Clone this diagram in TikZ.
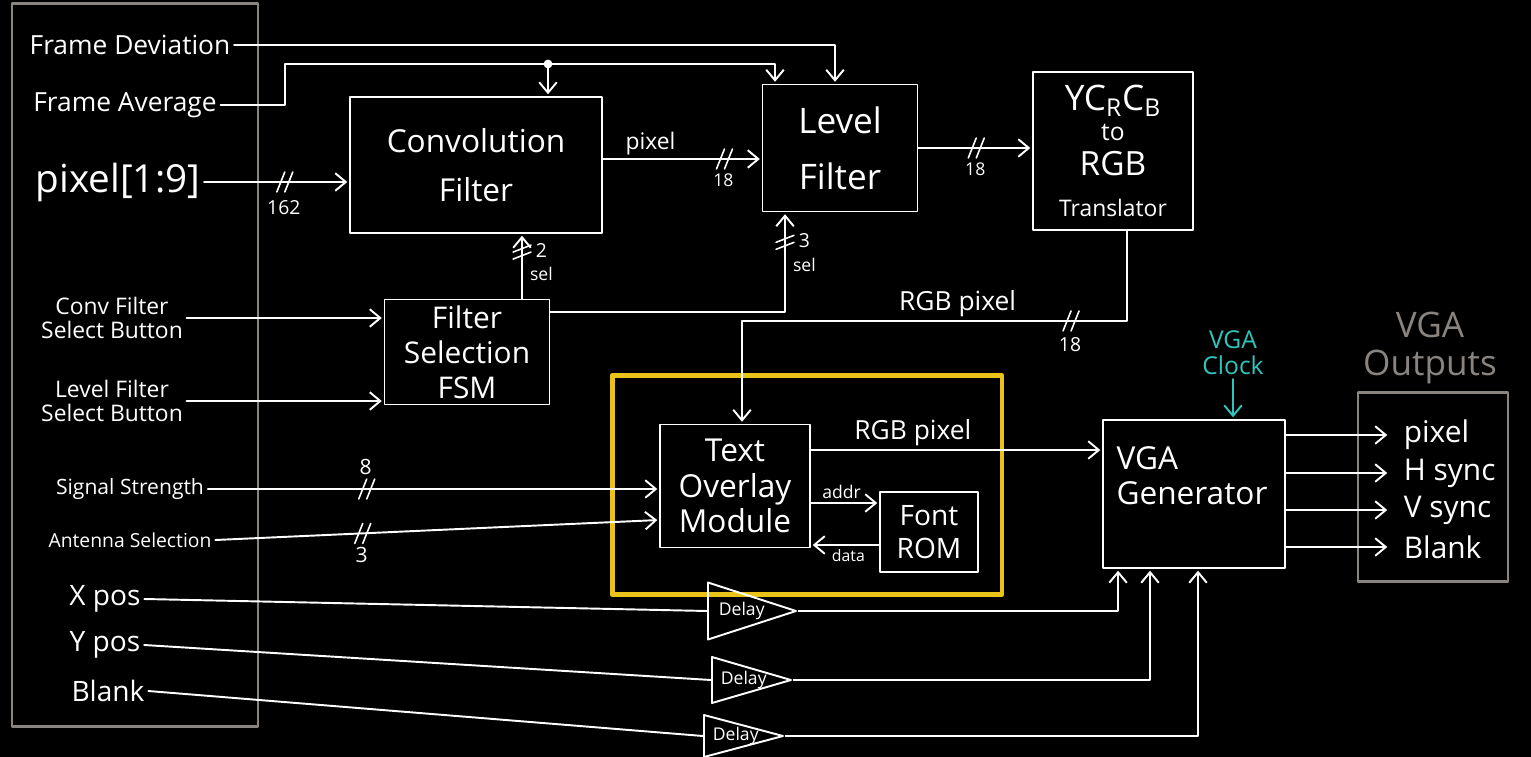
\documentclass[tikz,border=0pt]{standalone}
\usepackage{fontspec}
\setmainfont{Open Sans}
\usetikzlibrary{arrows.meta,calc,positioning,shapes.geometric}

\definecolor{panelgray}{HTML}{8A8480}
\definecolor{hiyellow}{HTML}{E9C318}
\definecolor{clkcyan}{HTML}{2FC5BD}
\newcommand{\fs}[2]{\fontsize{#1}{#2}\selectfont}

\begin{document}
\begin{tikzpicture}[x=0.02cm, y=-0.02cm, line cap=round, line join=round,
  blk/.style={draw=white, line width=1.1pt, inner sep=2pt, align=center, text=white},
  lab/.style={text=white, inner sep=2pt, align=center},
  sig/.style={draw=white, line width=1.1pt, shorten >=1pt, -{Straight Barb[length=6pt,width=10pt]}},
  wire/.style={draw=white, line width=1.1pt},
  delay/.style={draw=white, line width=1.1pt, isosceles triangle, isosceles triangle stretches,
    inner sep=0pt, anchor=west},
  bus/.pic={\draw[white, line width=0.9pt] (-7,10) -- (1,-10) (1,10) -- (9,-10);},
  vbus/.pic={\draw[white, line width=0.9pt] (-9,2) -- (9,-5) (-9,9) -- (9,2);}]

\fill[black] (0,0) rectangle (1531,757);
\useasboundingbox (0,0) rectangle (1531,757);

% input side
\node[draw=panelgray, line width=1.3pt, minimum width=4.92cm, minimum height=14.46cm] (inpanel) at (135,365) {};
\node[lab, font=\fs{15}{18}] (fdev) at (130,45) {Frame Deviation};
\node[lab, font=\fs{15}{18}] (fave) at (125,105) {Frame Average};
\node[lab, font=\fs{22}{26}] (pix) at (118,182) {pixel[1:9]};
\node[lab, font=\fs{13}{14}] (cbtn) at (112,318) {Conv Filter\\Select Button};
\node[lab, font=\fs{13}{14}] (lbtn) at (112,401) {Level Filter\\Select Button};
\node[lab, font=\fs{12}{14}] (sstr) at (130,489) {Signal Strength};
\node[lab, font=\fs{11}{13}] (ant) at (130,540) {Antenna Selection};
\node[lab, font=\fs{16}{18}] (xpos) at (105,599) {X pos};
\node[lab, font=\fs{16}{18}] (ypos) at (105,645) {Y pos};
\node[lab, font=\fs{16}{18}] (blnk) at (108,691) {Blank};

% blocks
\node[blk, minimum width=5.04cm, minimum height=2.72cm, font=\fs{18}{28}] (conv) at (476,165) {Convolution\\Filter};
\node[blk, minimum width=3.1cm, minimum height=2.54cm, font=\fs{20}{32}] (level) at (840,148) {Level\\Filter};
\node[blk, minimum width=3.2cm, minimum height=3.16cm, font=\fs{18}{20}] (ycc) at (1113,151)
  {{\fs{20}{22}YC\textsubscript{R}C\textsubscript{B}}\\[-3pt]{\fs{14}{16}to}\\{\fs{19}{20}RGB}\\[3pt]{\fs{13}{14}Translator}};
\node[blk, minimum width=3.3cm, minimum height=2.1cm, font=\fs{17}{20}] (fsm) at (467,352) {Filter\\Selection\\FSM};
\node[draw=hiyellow, line width=2.8pt, minimum width=7.8cm, minimum height=4.38cm] (hilite) at (807,485) {};
\node[blk, minimum width=3cm, minimum height=2.46cm, font=\fs{18}{20}] (tom) at (735,486) {Text\\Overlay\\Module};
\node[blk, minimum width=1.96cm, minimum height=1.6cm, font=\fs{16}{19}] (rom) at (929,532) {Font\\ROM};
\node[blk, minimum width=3.64cm, minimum height=2.96cm] (vga) at (1194,494) {};
\node[lab, font=\fs{18}{20}, align=left] (vgatxt) at (1192,476) {VGA\\Generator};
\node[delay, minimum width=1.14cm, minimum height=1.76cm] (d1) at (707,611) {};
\node[delay, minimum width=0.92cm, minimum height=1.58cm] (d2) at (711,680) {};
\node[delay, minimum width=0.84cm, minimum height=1.58cm] (d3) at (703,736) {};
\node[lab, font=\fs{10}{12}, anchor=west] (d1t) at ([xshift=0.16cm]d1.west) {Delay};
\node[lab, font=\fs{10}{12}, anchor=west] (d2t) at ([xshift=0.12cm]d2.west) {Delay};
\node[lab, font=\fs{10}{12}, anchor=west] (d3t) at ([xshift=0.12cm]d3.west) {Delay};

% output side
\node[draw=panelgray, line width=1.3pt, minimum width=3cm, minimum height=3.78cm] (outpanel) at (1433,487) {};
\node[lab, text=panelgray, font=\fs{20}{22}] (outttl) at (1430,348) {VGA\\Outputs};
\node[lab, font=\fs{17}{18}, anchor=west] (opix) at (1400,435) {pixel};
\node[lab, font=\fs{17}{18}, anchor=west] (ohs) at (1400,473) {H sync};
\node[lab, font=\fs{17}{18}, anchor=west] (ovs) at (1400,510) {V sync};
\node[lab, font=\fs{17}{18}, anchor=west] (oblk) at (1400,547) {Blank};
\node[lab, text=clkcyan, font=\fs{14}{15}] (clk) at (1233,353) {VGA\\Clock};

% frame statistics
\coordinate (avgtop) at (285,64);
\coordinate (avgsplit) at (548,64);
\draw[sig] (fdev.east) -| ([xshift=-0.1cm]level.north);
\draw[sig] (fave.east) -| (avgtop) -| ([xshift=-1.3cm]level.north);
\fill[white] (avgsplit) circle (2.5pt);
\draw[sig] (avgsplit) -- ([xshift=1.44cm]conv.north);

% pixel path
\draw[sig] (pix.east) -- coordinate[pos=0.55] (bpix) (pix.east -| conv.west);
\pic at (bpix) {bus};
\node[lab, font=\fs{11}{12}, below=0.3cm of bpix] (n162) {162};
\draw[sig] ([yshift=0.12cm]conv.east) -- coordinate[pos=0.76] (bconv)
  node[lab, pos=0.3, above, font=\fs{13}{14}] (tpix) {pixel} ([yshift=0.12cm]conv.east -| level.west);
\pic at (bconv) {bus};
\node[lab, font=\fs{10}{11}, below=0.22cm of bconv] (n18a) {18};
\draw[sig] (level.east) -- coordinate[pos=0.5] (blev) (level.east -| ycc.west);
\pic at (blev) {bus};
\node[lab, font=\fs{10}{11}, below=0.22cm of blev] (n18b) {18};

% filter selection
\draw[sig] ([xshift=1.1cm]fsm.north) -- coordinate[pos=0.75] (bsel2) ([xshift=1.1cm]fsm.north |- conv.south);
\pic at (bsel2) {vbus};
\node[lab, font=\fs{11}{12}, right=0.2cm of bsel2] (n2) {2};
\node[lab, font=\fs{10}{12}, below=0.05cm of n2] (nsel2) {sel};
\draw[sig] ([yshift=0.8cm]fsm.east) -| coordinate[pos=0.86] (bsel3) ([xshift=-1.1cm]level.south);
\pic at (bsel3) {vbus};
\node[lab, font=\fs{11}{12}, right=0.2cm of bsel3] (n3) {3};
\node[lab, font=\fs{10}{12}, below=0.05cm of n3] (nsel3) {sel};
\draw[sig] (cbtn.east) -- (cbtn.east -| fsm.west);
\draw[sig] (lbtn.east) -- (lbtn.east -| fsm.west);

% text overlay
\draw[sig] ([xshift=0.28cm]ycc.south) -- ++(0,90) -| coordinate[pos=0.074] (brgb)
  node[lab, pos=0.22, above, font=\fs{15}{16}] (trgb1) {RGB pixel} ([xshift=0.14cm]tom.north);
\pic at (brgb) {bus};
\node[lab, font=\fs{11}{12}, below=0.25cm of brgb] (n18c) {18};
\draw[sig] ([yshift=0.72cm]tom.east) -- node[lab, pos=0.35, above, font=\fs{15}{16}] (trgb2) {RGB pixel}
  ([yshift=0.72cm]tom.east -| vga.west);
\draw[sig] ([yshift=-0.34cm]tom.east) -- node[lab, pos=0.45, above, font=\fs{10}{11}] (taddr) {addr}
  ([yshift=-0.34cm]tom.east -| rom.west);
\draw[sig] ([yshift=-0.26cm]rom.west) -- node[lab, pos=0.45, below, font=\fs{9}{10}] (tdata) {data}
  ([yshift=-0.26cm]rom.west -| tom.east);
\draw[sig] (sstr.east) -- coordinate[pos=0.35] (bsig) (sstr.east -| tom.west);
\pic at (bsig) {bus};
\node[lab, font=\fs{12}{13}, above=0.2cm of bsig] (n8) {8};
\draw[sig] (ant.east) -- coordinate[pos=0.33] (bant) ([yshift=-0.68cm]tom.west);
\pic at (bant) {bus};
\node[lab, font=\fs{12}{13}, below=0.2cm of bant] (n3b) {3};

% sync signals
\draw[wire] (xpos.east) -- (d1.west);
\draw[wire] (ypos.east) -- (d2.west);
\draw[wire] (blnk.east) -- (d3.west);
\draw[sig] (d1.apex) -| ([xshift=-1.52cm]vga.south);
\draw[sig] (d2.apex) -| ([xshift=-0.88cm]vga.south);
\draw[sig] (d3.apex) -| ([xshift=0.08cm]vga.south);

% vga outputs
\foreach \o in {opix,ohs,ovs,oblk}
  \draw[sig] (vga.east |- \o.west) -- ([xshift=-0.22cm]\o.west);
\draw[sig, draw=clkcyan] (clk.south) -- (clk.south |- vga.north);
\end{tikzpicture}
\end{document}
